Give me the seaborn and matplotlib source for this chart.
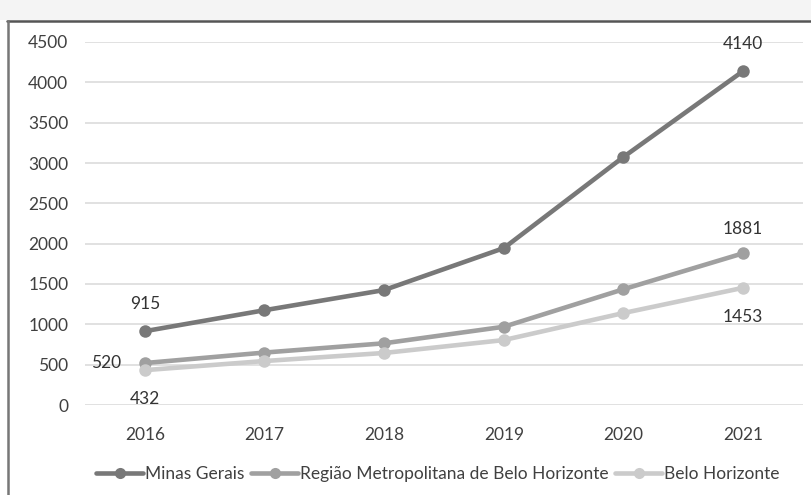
import matplotlib
matplotlib.use("Agg")
import matplotlib.pyplot as plt
from matplotlib.patches import Rectangle
from matplotlib.lines import Line2D
import seaborn as sns
import pandas as pd

years = ["2016", "2017", "2018", "2019", "2020", "2021"]
minas_gerais = [915, 1175, 1425, 1945, 3075, 4140]
rmbh = [520, 650, 765, 970, 1435, 1881]
belo_horizonte = [432, 545, 645, 805, 1140, 1453]
series_names = ["Minas Gerais", "Região Metropolitana de Belo Horizonte", "Belo Horizonte"]
series_values = [minas_gerais, rmbh, belo_horizonte]
colors = ["#787878", "#a0a0a0", "#cbcbcb"]
y_ticks = [0, 500, 1000, 1500, 2000, 2500, 3000, 3500, 4000, 4500]

rows = []
for name, vals in zip(series_names, series_values):
    for i, v in enumerate(vals):
        rows.append({"ano": i, "valor": v, "serie": name})
df = pd.DataFrame(rows)

sns.set_theme(style="white")
plt.rcParams["font.family"] = ["Lato", "DejaVu Sans"]

fig = plt.figure(figsize=(8.12, 4.95), dpi=100)
fig.patch.set_facecolor("white")
# light band on top and the outer frame
fig.patches.append(Rectangle((0, 1 - 20 / 495), 1, 20 / 495, transform=fig.transFigure,
                             facecolor="#f4f4f4", edgecolor="none", zorder=0))
fig.add_artist(Line2D([7 / 812, 1], [1 - 20.5 / 495, 1 - 20.5 / 495], transform=fig.transFigure,
                      color="#555555", lw=1.8))
fig.add_artist(Line2D([7.5 / 812, 7.5 / 812], [0, 1 - 20.5 / 495], transform=fig.transFigure,
                      color="#777777", lw=1.8))

ax = fig.add_axes([85 / 812, 1 - 405 / 495, (803 - 85) / 812, (405 - 42) / 495])
ax.set_facecolor("white")

sns.lineplot(data=df, x="ano", y="valor", hue="serie", hue_order=series_names,
             palette=colors, marker="o", markersize=9, markeredgewidth=0,
             linewidth=3.3, ax=ax, legend=False, zorder=3)

ax.set_xlim(-0.5, 5.5)
ax.set_ylim(0, 4500)
ax.set_yticks(y_ticks)
ax.set_xticks(range(len(years)))
ax.set_xticklabels(years)
ax.yaxis.grid(True, color="#dcdcdc", lw=1.2)
ax.xaxis.grid(False)
for s in ax.spines.values():
    s.set_visible(False)
ax.tick_params(axis="both", length=0, labelsize=12.5, colors="#404040")
ax.tick_params(axis="y", pad=12)
ax.tick_params(axis="x", pad=16)
ax.set_xlabel("")
ax.set_ylabel("")

# value labels
lab_kw = dict(fontsize=12.5, color="#333333")
ax.annotate(str(minas_gerais[0]), (0, minas_gerais[0]), xytext=(0, 14), textcoords="offset points",
            ha="center", va="bottom", **lab_kw)
ax.annotate(str(rmbh[0]), (0, rmbh[0]), xytext=(-28, 0), textcoords="offset points",
            ha="center", va="center", **lab_kw)
ax.annotate(str(belo_horizonte[0]), (0, belo_horizonte[0]), xytext=(0, -15), textcoords="offset points",
            ha="center", va="top", **lab_kw)
ax.annotate(str(minas_gerais[5]), (5, minas_gerais[5]), xytext=(0, 14), textcoords="offset points",
            ha="center", va="bottom", **lab_kw)
ax.annotate(str(rmbh[5]), (5, rmbh[5]), xytext=(0, 12), textcoords="offset points",
            ha="center", va="bottom", **lab_kw)
ax.annotate(str(belo_horizonte[5]), (5, belo_horizonte[5]), xytext=(0, -15), textcoords="offset points",
            ha="center", va="top", **lab_kw)

handles = [Line2D([], [], color=c, lw=3.3, marker="o", markersize=8, markeredgewidth=0)
           for c in colors]
fig.legend(handles, series_names, loc="center", bbox_to_anchor=(438 / 812, 1 - 474 / 495),
           ncol=3, frameon=False, fontsize=12.5, handlelength=2.7, handletextpad=0.1,
           columnspacing=0.4, labelcolor="#404040")

fig.savefig("out.png", dpi=100)
